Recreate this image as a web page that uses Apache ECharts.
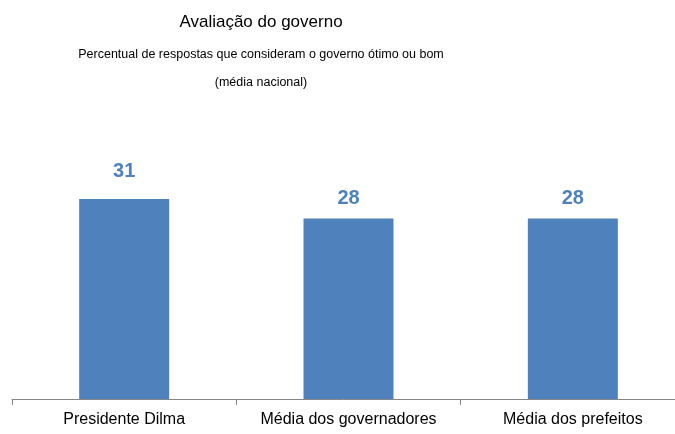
<!DOCTYPE html>
<html>
<head>
<meta charset="utf-8">
<script src="https://cdn.jsdelivr.net/npm/echarts@6/dist/echarts.min.js"></script>
<style>
	html, body { margin: 0; padding: 0; background: #fff; }
	#chart { width: 675px; height: 434px; }
</style>
</head>
<body>
<div id="chart"></div>
<script>
const categories = ['Presidente Dilma', 'Média dos governadores', 'Média dos prefeitos'];
const values = [31, 28, 28];

const titleText = 'Avaliação do governo';
const subtitleText = 'Percentual de respostas que consideram o governo ótimo ou bom';
const noteText = '(média nacional)';

const font = '"Liberation Sans", Arial, sans-serif';
const barColor = '#4f81bd';

// the labels in the source sit at slightly different heights above the bars
const labelGaps = [18, 10, 10];

const chart = echarts.init(document.getElementById('chart'));

chart.setOption({
	animation: false,
	title: [
		{
			text: titleText,
			left: 256, top: 9, textAlign: 'center',
			textStyle: { fontFamily: font, fontSize: 17, fontWeight: 'normal', color: '#000' }
		},
		{
			text: subtitleText,
			left: 256, top: 43, textAlign: 'center',
			textStyle: { fontFamily: font, fontSize: 12.5, fontWeight: 'normal', color: '#000' }
		},
		{
			text: noteText,
			left: 256, top: 71, textAlign: 'center',
			textStyle: { fontFamily: font, fontSize: 12.5, fontWeight: 'normal', color: '#000' }
		}
	],
	// the axis runs past the right edge of the picture
	grid: { left: 12, width: 673, top: 141, bottom: 35, outerBoundsMode: 'none' },
	xAxis: {
		type: 'category',
		data: categories,
		axisLine: { lineStyle: { color: '#868686', width: 1 } },
		axisTick: { show: true, length: 6, lineStyle: { color: '#868686' } },
		axisLabel: { fontFamily: font, fontSize: 16, color: '#000', margin: 13, interval: 0 }
	},
	yAxis: {
		type: 'value',
		min: 0, max: 40,
		show: false,
		splitLine: { show: false }
	},
	series: [{
		type: 'bar',
		data: values.map((v, i) => ({ value: v, label: { distance: labelGaps[i] } })),
		barWidth: 90,
		itemStyle: { color: barColor },
		label: {
			show: true,
			position: 'top',
			fontFamily: font,
			fontSize: 20,
			fontWeight: 'bold',
			color: barColor
		}
	}]
});
</script>
</body>
</html>
